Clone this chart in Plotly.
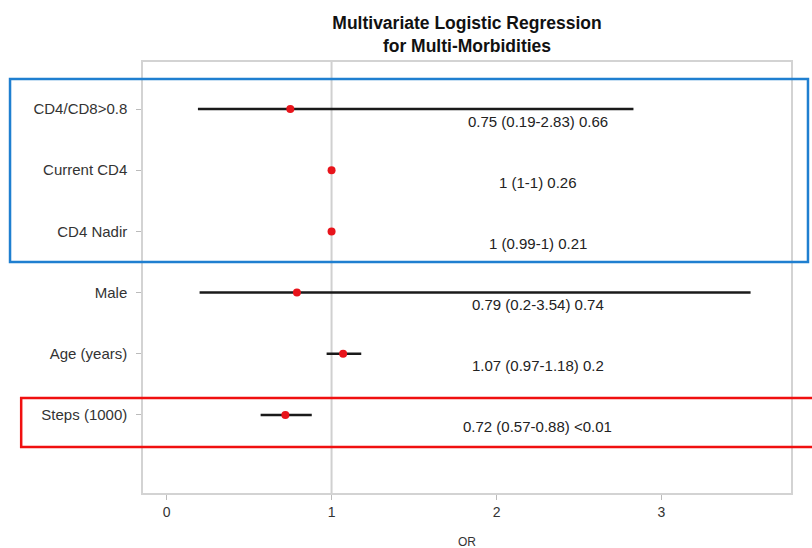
import plotly.graph_objects as go

variables = ["CD4/CD8>0.8", "Current CD4", "CD4 Nadir", "Male", "Age (years)", "Steps (1000)"]
odds_ratio = [0.75, 1.0, 1.0, 0.79, 1.07, 0.72]
ci_low = [0.19, 1.0, 0.99, 0.2, 0.97, 0.57]
ci_high = [2.83, 1.0, 1.0, 3.54, 1.18, 0.88]
labels = ["0.75 (0.19-2.83) 0.66", "1 (1-1) 0.26", "1 (0.99-1) 0.21",
          "0.79 (0.2-3.54) 0.74", "1.07 (0.97-1.18) 0.2", "0.72 (0.57-0.88) <0.01"]
x_ticks = [0, 1, 2, 3]
label_x = 2.25

n = len(variables)
ypos = [n - i for i in range(n)]

FONT = "Liberation Sans, Arial, Helvetica, sans-serif"

fig = go.Figure()

fig.add_trace(go.Scatter(
    x=odds_ratio, y=ypos, mode="markers",
    marker=dict(color="#e8141b", size=8, line=dict(width=0)),
    error_x=dict(type="data", symmetric=False,
                 array=[h - o for h, o in zip(ci_high, odds_ratio)],
                 arrayminus=[o - l for o, l in zip(odds_ratio, ci_low)],
                 color="#1a1a1a", thickness=2.5, width=0),
    hoverinfo="skip", showlegend=False,
))

# reference line at OR = 1
fig.add_shape(type="line", xref="x", yref="paper", x0=1, x1=1, y0=0, y1=1,
              line=dict(color="#d0d0d0", width=2), layer="below")

for y, t in zip(ypos, labels):
    fig.add_annotation(x=label_x, y=y, text=t, showarrow=False, yshift=-12,
                       font=dict(family=FONT, size=15, color="#222222"),
                       xanchor="center", yanchor="middle")

fig.add_annotation(x=0.5, y=-0.113, xref="paper", yref="paper", text="OR",
                   showarrow=False, font=dict(family=FONT, size=12, color="#333333"),
                   xanchor="center", yanchor="middle")

# highlight boxes
fig.add_shape(type="rect", xref="paper", yref="paper",
              x0=-0.2052, x1=1.0262, y0=0.536, y1=0.9606,
              line=dict(color="#1f7fd0", width=2.5), fillcolor="rgba(0,0,0,0)")
fig.add_shape(type="rect", xref="paper", yref="paper",
              x0=-0.188, x1=1.04, y0=0.1067, y1=0.2204,
              line=dict(color="#f01010", width=2.5), fillcolor="rgba(0,0,0,0)")

fig.update_layout(
    width=812, height=548,
    margin=dict(l=143, r=21, t=62, b=55),
    paper_bgcolor="white", plot_bgcolor="white",
    title=dict(text="<b>Multivariate Logistic Regression<br>for Multi-Morbidities</b>",
               x=(143 + 791) / 2 / 812, xanchor="center",
               y=1 - 29 / 548, yanchor="middle",
               font=dict(family=FONT, size=17.5, color="#111111")),
    xaxis=dict(range=[-0.143, 3.785], tickvals=x_ticks, ticktext=[str(v) for v in x_ticks],
               showgrid=False, zeroline=False, ticks="outside", ticklen=5,
               tickcolor="#bbbbbb", showline=True, mirror=True,
               linecolor="#d3d3d3", linewidth=1.5,
               tickfont=dict(family=FONT, size=14, color="#333333")),
    yaxis=dict(range=[-0.275, 6.768], tickvals=ypos, ticktext=variables,
               showgrid=False, zeroline=False, ticks="outside", ticklen=5,
               ticklabelstandoff=6,
               tickcolor="#bbbbbb", showline=True, mirror=True,
               linecolor="#d3d3d3", linewidth=1.5,
               tickfont=dict(family=FONT, size=15, color="#333333")),
)

fig.write_html("out.html")
